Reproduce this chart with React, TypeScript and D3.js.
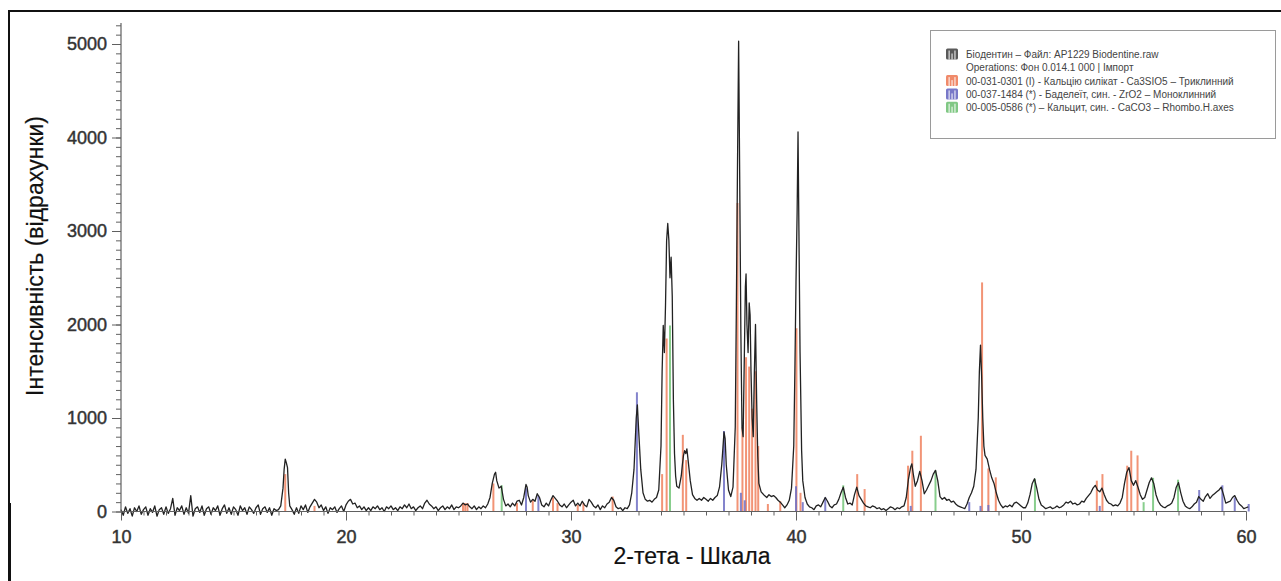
import React, { useEffect, useRef } from 'react';
import * as d3 from 'd3';

// measured scan, [2-theta, counts]
const scan10to20: [number, number][] = [
  [10.0, 20], [10.1, -40], [10.2, 50], [10.3, -20], [10.4, 30], [10.5, -50], [10.6, 40], [10.7, 0], [10.8, 60], [10.9, -30],
  [11.0, 20], [11.1, 50], [11.2, -40], [11.3, 30], [11.4, -10], [11.5, 60], [11.6, -50], [11.7, 20], [11.8, 40], [11.9, -30],
  [12.0, 50], [12.1, -20], [12.2, 30], [12.3, 140], [12.4, -40], [12.5, 40], [12.6, 10], [12.7, 60], [12.8, -30], [12.9, 40],
  [13.0, -20], [13.1, 170], [13.2, -50], [13.3, 30], [13.4, 50], [13.5, -10], [13.6, 60], [13.7, -40], [13.8, 30], [13.9, 50],
  [14.0, -30], [14.1, 40], [14.2, 10], [14.3, 60], [14.4, -40], [14.5, 30], [14.6, 70], [14.7, -20], [14.8, 40], [14.9, -30],
  [15.0, 50], [15.1, 20], [15.2, -40], [15.3, 60], [15.4, 10], [15.5, 40], [15.6, -30], [15.7, 50], [15.8, 20], [15.9, -20],
  [16.0, 40], [16.1, 70], [16.2, -30], [16.3, 30], [16.4, 50], [16.5, -10], [16.6, 40], [16.7, -40], [16.8, 30], [16.9, 10],
  [17.0, 20], [17.1, 60], [17.2, 250], [17.25, 450], [17.3, 560], [17.35, 520], [17.4, 470], [17.45, 200], [17.5, 60],
  [17.6, 20], [17.7, -30], [17.8, 40], [17.9, -20],
  [18.0, 60], [18.1, 20], [18.2, 70], [18.3, -10], [18.4, 50], [18.5, 90], [18.6, 130], [18.7, 100], [18.8, 40], [18.9, 70],
  [19.0, 10], [19.1, 50], [19.2, -20], [19.3, 40], [19.4, 20], [19.5, 50], [19.6, -10], [19.7, 30], [19.8, 60], [19.9, 0],
];

const scan20to30: [number, number][] = [
  [20.0, 70], [20.1, 110], [20.2, 130], [20.3, 80], [20.4, 90], [20.5, 40], [20.6, 60], [20.7, 20], [20.8, 50], [20.9, 10],
  [21.0, 40], [21.1, 10], [21.2, 50], [21.3, 30], [21.4, 60], [21.5, 20], [21.6, 40], [21.7, 0], [21.8, 50], [21.9, 30],
  [22.0, 60], [22.1, 20], [22.2, 40], [22.3, 10], [22.4, 50], [22.5, 30], [22.6, 70], [22.7, 40], [22.8, 80], [22.9, 30],
  [23.0, 50], [23.1, 10], [23.2, 40], [23.3, 60], [23.4, 30], [23.5, 90], [23.6, 120], [23.7, 80], [23.8, 60], [23.9, 30],
  [24.0, 50], [24.1, 10], [24.2, 40], [24.3, 60], [24.4, 20], [24.5, 50], [24.6, 30], [24.7, 70], [24.8, 20], [24.9, 50],
  [25.0, 40], [25.1, 60], [25.2, 90], [25.3, 70], [25.4, 80], [25.5, 50], [25.6, 30], [25.7, 60], [25.8, 20], [25.9, 50],
  [26.0, 30], [26.1, 60], [26.2, 40], [26.3, 80], [26.4, 150], [26.5, 300], [26.6, 400], [26.65, 420], [26.7, 330],
  [26.8, 250], [26.9, 270], [27.0, 130], [27.1, 60], [27.2, 80], [27.3, 50], [27.4, 90], [27.5, 60], [27.6, 110],
  [27.7, 120], [27.8, 70], [27.9, 150], [28.0, 290], [28.05, 260], [28.1, 170], [28.2, 100], [28.3, 130], [28.4, 110],
  [28.5, 190], [28.6, 150], [28.7, 70], [28.8, 50], [28.9, 90], [29.0, 60], [29.1, 120], [29.2, 170], [29.3, 140],
  [29.4, 110], [29.5, 70], [29.6, 50], [29.7, 80], [29.8, 40], [29.9, 70],
];

const scan30to40: [number, number][] = [
  [30.0, 100], [30.1, 120], [30.2, 60], [30.3, 90], [30.4, 60], [30.5, 110], [30.6, 70], [30.7, 50], [30.8, 130], [30.9, 100],
  [31.0, 60], [31.1, 40], [31.2, 70], [31.3, 20], [31.4, 60], [31.5, 40], [31.6, 80], [31.7, 100], [31.8, 150], [31.9, 120],
  [32.0, 50], [32.1, 30], [32.2, 40], [32.3, 10], [32.4, 40], [32.5, 30], [32.6, 70], [32.7, 200], [32.8, 450], [32.9, 1000],
  [32.95, 1140], [33.0, 900], [33.1, 450], [33.2, 200], [33.3, 130], [33.4, 110], [33.5, 120], [33.6, 100], [33.7, 130],
  [33.8, 150], [33.9, 230], [34.0, 700], [34.05, 1500], [34.1, 1990], [34.15, 1700], [34.2, 2200], [34.25, 2900],
  [34.3, 3080], [34.35, 2900], [34.4, 2500], [34.45, 2720], [34.5, 2300], [34.55, 1200], [34.6, 620], [34.65, 380],
  [34.7, 270], [34.8, 250], [34.9, 380], [34.95, 500], [35.0, 600], [35.05, 650], [35.1, 620], [35.15, 670], [35.2, 560],
  [35.3, 330], [35.4, 180], [35.5, 140], [35.6, 120], [35.7, 140], [35.8, 120], [35.9, 150], [36.0, 130], [36.1, 110],
  [36.2, 140], [36.3, 120], [36.4, 150], [36.5, 170], [36.6, 260], [36.7, 500], [36.8, 850], [36.85, 780], [36.9, 500],
  [37.0, 230], [37.1, 160], [37.2, 260], [37.3, 900], [37.35, 2200], [37.4, 3700], [37.45, 5030], [37.5, 3500],
  [37.55, 1900], [37.6, 900], [37.65, 800], [37.7, 1600], [37.75, 2400], [37.78, 2540], [37.82, 2000], [37.87, 1700],
  [37.92, 2230], [37.96, 2100], [38.0, 1500], [38.05, 1000], [38.1, 800], [38.15, 1500], [38.2, 2000], [38.25, 1200],
  [38.3, 600], [38.35, 300], [38.45, 210], [38.6, 170], [38.7, 150], [38.8, 180], [38.9, 160], [39.0, 170], [39.1, 150],
  [39.2, 120], [39.3, 100], [39.4, 70], [39.5, 40], [39.6, 70], [39.7, 120], [39.8, 250], [39.9, 700], [39.95, 1500],
];

const scan40to50: [number, number][] = [
  [40.0, 2450], [40.05, 3200], [40.09, 4060], [40.13, 3000], [40.18, 1700], [40.25, 650], [40.3, 330], [40.4, 150],
  [40.5, 80], [40.6, 50], [40.7, 40], [40.8, 20], [40.9, 60], [41.0, 70], [41.1, 50], [41.2, 100], [41.3, 150], [41.4, 110],
  [41.5, 60], [41.6, 40], [41.7, 70], [41.8, 80], [41.9, 130], [42.0, 200], [42.1, 260], [42.2, 150], [42.3, 80], [42.4, 90],
  [42.5, 70], [42.6, 180], [42.7, 260], [42.8, 170], [42.9, 130], [43.0, 90], [43.1, 60], [43.2, 50], [43.3, 40], [43.4, 60],
  [43.5, 50], [43.6, 30], [43.7, 40], [43.8, 20], [43.9, 30], [44.0, 10], [44.1, 30], [44.2, 50], [44.3, 40], [44.4, 20],
  [44.5, 40], [44.6, 30], [44.7, 50], [44.8, 60], [44.9, 150], [45.0, 350], [45.1, 480], [45.15, 510], [45.2, 420],
  [45.3, 270], [45.4, 330], [45.5, 430], [45.6, 330], [45.7, 190], [45.8, 230], [45.9, 280], [46.0, 330], [46.1, 400],
  [46.2, 440], [46.3, 330], [46.4, 160], [46.5, 130], [46.6, 150], [46.7, 120], [46.8, 130], [46.9, 100], [47.0, 110],
  [47.1, 80], [47.2, 60], [47.3, 50], [47.4, 40], [47.5, 30], [47.6, 80], [47.7, 150], [47.8, 200], [47.9, 270],
  [48.0, 450], [48.1, 1000], [48.15, 1500], [48.2, 1780], [48.25, 1450], [48.3, 1000], [48.35, 700], [48.4, 600],
  [48.5, 560], [48.6, 450], [48.7, 360], [48.8, 300], [48.9, 200], [49.0, 120], [49.1, 70], [49.2, 40], [49.3, 60],
  [49.4, 50], [49.5, 70], [49.6, 50], [49.7, 90], [49.8, 100], [49.9, 80],
];

const scan50to60: [number, number][] = [
  [50.0, 60], [50.1, 40], [50.2, 40], [50.3, 90], [50.4, 180], [50.5, 300], [50.6, 350], [50.7, 250], [50.8, 130], [50.9, 70],
  [51.0, 50], [51.1, 30], [51.2, 40], [51.3, 50], [51.4, 30], [51.5, 40], [51.6, 60], [51.7, 40], [51.8, 50], [51.9, 70],
  [52.0, 100], [52.1, 90], [52.2, 110], [52.3, 80], [52.4, 90], [52.5, 70], [52.6, 80], [52.7, 110], [52.8, 100], [52.9, 140],
  [53.0, 170], [53.1, 200], [53.2, 250], [53.3, 280], [53.4, 230], [53.5, 210], [53.6, 250], [53.7, 180], [53.8, 120], [53.9, 90],
  [54.0, 80], [54.1, 60], [54.2, 70], [54.3, 60], [54.4, 90], [54.5, 150], [54.6, 300], [54.7, 420], [54.8, 470], [54.9, 330],
  [55.0, 280], [55.1, 330], [55.2, 260], [55.3, 180], [55.4, 130], [55.5, 150], [55.6, 230], [55.7, 310], [55.8, 360], [55.9, 300],
  [56.0, 180], [56.1, 110], [56.2, 70], [56.3, 50], [56.4, 40], [56.5, 60], [56.6, 70], [56.7, 90], [56.8, 150], [56.9, 260],
  [57.0, 310], [57.1, 200], [57.2, 110], [57.3, 60], [57.4, 40], [57.5, 30], [57.6, 50], [57.7, 80], [57.8, 100], [57.9, 160],
  [58.0, 130], [58.1, 110], [58.2, 160], [58.3, 190], [58.4, 140], [58.5, 170], [58.6, 190], [58.7, 210], [58.8, 230], [58.9, 260],
  [59.0, 180], [59.1, 90], [59.2, 100], [59.3, 110], [59.4, 150], [59.5, 170], [59.6, 120], [59.7, 80], [59.8, 60], [59.9, 30],
  [60.0, 40], [60.1, 50],
];

// reference patterns, [2-theta, stick height]
const c3sSticks: [number, number][] = [
  [17.3, 400], [18.6, 60], [25.2, 90], [25.3, 90], [25.4, 90], [26.55, 300], [27.6, 90], [28.3, 120], [29.2, 150],
  [29.4, 90], [30.3, 70], [30.55, 90], [31.85, 160], [34.05, 400], [34.25, 1850], [34.97, 820], [35.12, 550],
  [37.4, 3300], [37.62, 900], [37.78, 1650], [37.92, 1550], [38.05, 1100], [38.2, 1500], [38.32, 700], [38.75, 80],
  [39.3, 110], [40.02, 1960], [40.2, 200], [42.72, 400], [43.05, 240], [44.98, 490], [45.17, 650], [45.55, 810],
  [48.27, 2450], [48.55, 460], [48.88, 365], [53.37, 330], [53.62, 400], [54.72, 490], [54.9, 650], [55.18, 600],
];

const zro2Sticks: [number, number][] = [
  [28.0, 250], [28.55, 170], [32.93, 1275], [36.8, 860], [37.55, 200], [37.72, 120], [40.0, 270], [40.3, 100],
  [41.3, 150], [45.1, 60], [47.7, 100], [48.2, 60], [48.55, 70], [53.5, 60], [57.92, 230], [58.95, 280], [59.5, 150],
  [60.12, 80],
];

const calciteSticks: [number, number][] = [
  [26.92, 280], [34.4, 1990], [42.1, 280], [46.2, 440], [50.62, 350], [55.45, 100], [55.87, 360], [56.98, 340],
];

const xTicks = [10, 20, 30, 40, 50, 60];
const yTicks = [0, 1000, 2000, 3000, 4000, 5000];

const legendItems = [
  { text: 'Біодентин – Файл: AP1229 Biodentine.raw', color: '#5a5a5a' },
  { text: 'Operations: Фон 0.014.1 000 | Імпорт', color: null },
  { text: '00-031-0301 (I) - Кальцію силікат - Ca3SIO5 – Триклинний', color: '#f08a6a' },
  { text: '00-037-1484 (*) - Баделеїт, син. - ZrO2 – Моноклинний', color: '#7878c8' },
  { text: '00-005-0586 (*) – Кальцит, син. - CaCO3 – Rhombo.H.axes', color: '#80c884' },
];

const FONT = '"Liberation Sans", Arial, Helvetica, sans-serif';

const App = () => {
  const svgRef = useRef<SVGSVGElement>(null);

  useEffect(() => {
    const svg = d3.select(svgRef.current);
    svg.selectAll('*').remove();

    const x = d3.scaleLinear().domain([10, 60]).range([121, 1246]);
    const y = d3.scaleLinear().domain([0, 5000]).range([511.5, 44]);

    // page frame
    svg.append('rect').attr('x', 8).attr('y', 10).attr('width', 1273).attr('height', 2).attr('fill', '#111');
    svg.append('rect').attr('x', 8).attr('y', 10).attr('width', 2).attr('height', 571).attr('fill', '#111');
    svg.append('rect').attr('x', 8).attr('y', 503).attr('width', 3).attr('height', 78).attr('fill', '#111');

    // sticks
    const phases = [
      { data: c3sSticks, color: '#f0825f' },
      { data: zro2Sticks, color: '#6f6fc4' },
      { data: calciteSticks, color: '#74c67a' },
    ];
    phases.forEach(p => {
      svg.append('g')
        .selectAll('line')
        .data(p.data)
        .join('line')
        .attr('x1', d => x(d[0]))
        .attr('x2', d => x(d[0]))
        .attr('y1', y(0))
        .attr('y2', d => y(d[1]))
        .attr('stroke', p.color)
        .attr('stroke-width', 2)
        .attr('opacity', 0.85);
    });

    // scan curve
    const scan = [...scan10to20, ...scan20to30, ...scan30to40, ...scan40to50, ...scan50to60];
    const lineGenerator = d3.line<[number, number]>()
      .x(d => x(d[0]))
      .y(d => y(d[1]));
    svg.append('path')
      .datum(scan)
      .attr('d', lineGenerator)
      .attr('fill', 'none')
      .attr('stroke', '#222')
      .attr('stroke-width', 1.3)
      .attr('stroke-linejoin', 'round');

    const axisColor = '#606060';

    // y axis
    const yAxis = svg.append('g').attr('transform', 'translate(121,0)');
    yAxis.call(d3.axisLeft(y).tickValues(d3.range(0, 5201, 100)).tickSize(5).tickFormat(() => ''));
    yAxis.append('g').call(d3.axisLeft(y).tickValues(yTicks).tickSize(9).tickPadding(5).tickFormat(d3.format('d')));
    yAxis.selectAll('.domain').remove();
    yAxis.append('line').attr('x1', 0).attr('x2', 0).attr('y1', y(0)).attr('y2', 23);

    // x axis
    const xAxis = svg.append('g').attr('transform', `translate(0,${y(0)})`);
    xAxis.call(d3.axisBottom(x).tickValues(d3.range(10, 61, 1)).tickSize(4).tickFormat(() => ''));
    xAxis.append('g').call(d3.axisBottom(x).tickValues(xTicks).tickSize(9).tickPadding(10).tickFormat(d3.format('d')));
    xAxis.selectAll('.domain').remove();
    xAxis.append('line').attr('x1', x(10)).attr('x2', x(60)).attr('y1', 0).attr('y2', 0);

    svg.selectAll('.tick line').attr('stroke', axisColor);
    [yAxis, xAxis].forEach(a => a.selectAll(':scope > line').attr('stroke', axisColor).attr('stroke-width', 1.2));
    svg.selectAll('.tick text')
      .attr('font-family', FONT)
      .attr('font-size', 18)
      .attr('fill', '#333')
      .attr('stroke', '#333')
      .attr('stroke-width', 0.45);

    // axis titles
    svg.append('text')
      .attr('transform', 'translate(43,256) rotate(-90)')
      .attr('text-anchor', 'middle')
      .attr('font-family', FONT)
      .attr('font-size', 23)
      .attr('fill', '#111')
      .attr('stroke', '#111')
      .attr('stroke-width', 0.2)
      .text('Інтенсивність (відрахунки)');
    svg.append('text')
      .attr('x', 692)
      .attr('y', 564)
      .attr('text-anchor', 'middle')
      .attr('font-family', FONT)
      .attr('font-size', 23)
      .attr('fill', '#111')
      .attr('stroke', '#111')
      .attr('stroke-width', 0.2)
      .text('2-тета - Шкала');

    // legend
    const legend = svg.append('g');
    legend.append('rect').attr('x', 930.5).attr('y', 30.5).attr('width', 345).attr('height', 108)
      .attr('fill', '#fff').attr('stroke', '#9a9a9a').attr('stroke-width', 1);
    legendItems.forEach((item, i) => {
      const cy = 54.5 + i * 13.3;
      if (item.color) {
        const icon = legend.append('g').attr('transform', `translate(946,${cy - 6})`);
        icon.append('rect').attr('width', 12).attr('height', 11).attr('rx', 1.5).attr('fill', item.color);
        [2.5, 5.4, 8.3].forEach((bx, j) => {
          icon.append('rect')
            .attr('x', bx)
            .attr('y', j === 1 ? 5 : 2)
            .attr('width', 1.3)
            .attr('height', j === 1 ? 6 : 9)
            .attr('fill', '#fff')
            .attr('opacity', 0.75);
        });
      }
      legend.append('text')
        .attr('x', 966)
        .attr('y', cy + 3.6)
        .attr('font-family', FONT)
        .attr('font-size', 10)
        .attr('fill', '#444')
        .text(item.text);
    });
  }, []);

  return (
    <div>
      <style>{'body{margin:0}'}</style>
      <svg ref={svgRef} width={1281} height={581} style={{ display: 'block', background: '#fff' }} />
    </div>
  );
};

export default App;
